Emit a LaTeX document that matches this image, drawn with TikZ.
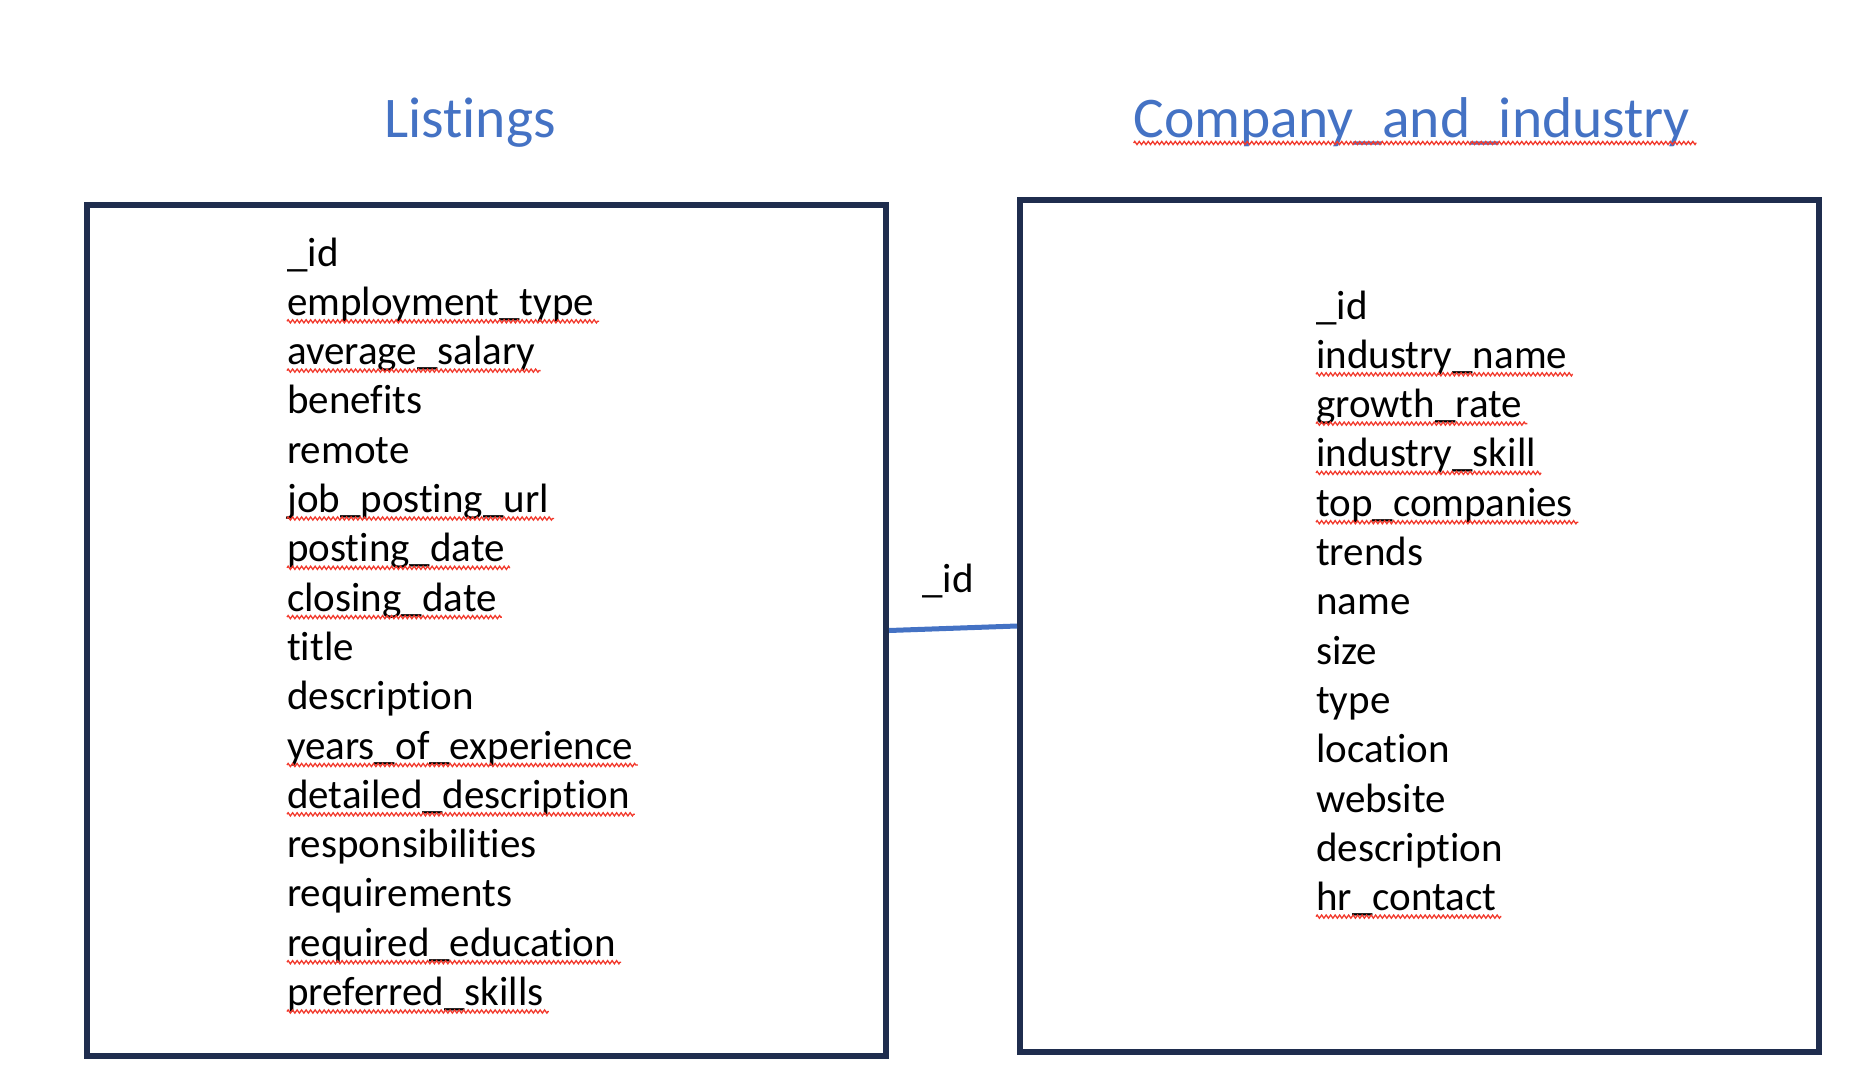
\documentclass[tikz,border=0pt]{standalone}
\usepackage{fontspec}
\setmainfont[Ligatures=NoCommon]{Carlito}
\usetikzlibrary{decorations.pathmorphing}
\definecolor{titleblue}{HTML}{4472C4}
\definecolor{boxnavy}{HTML}{1F2D4E}
\definecolor{spellred}{HTML}{F2392C}
\tikzset{
  tablebox/.style={draw=boxnavy, line width=6pt, rectangle, inner sep=0pt},
  titletext/.style={inner sep=0pt, anchor=base, text=titleblue, font=\fontsize{57.5}{60}\selectfont},
  fieldtext/.style={inner sep=0pt, anchor=base west, font=\fontsize{41}{48}\selectfont},
  wavy/.style={draw=spellred, line width=1.3pt, decorate, decoration={zigzag, amplitude=1.6pt, segment length=4.5pt}},
  linkline/.style={draw=titleblue, line width=5pt}
}
\begin{document}
\begin{tikzpicture}[x=1pt,y=-1pt]
\useasboundingbox (0,0) rectangle (1874,1084);
% titles
\node[titletext] (tl) at (470,137) {Listings};
\node[titletext] (tr) at (1412,137) {Company\_and\_industry};
\draw[wavy] ([xshift=0pt,yshift=-6pt]tr.base west) -- ([xshift=6pt,yshift=-6pt]tr.base east);
% boxes
\node[tablebox, minimum width=799pt, minimum height=851pt] (lbox) at (486.5,630.5) {};
\node[tablebox, minimum width=799pt, minimum height=852pt] (rbox) at (1419.5,626) {};
% connector
\draw[linkline] (lbox.east) -- (rbox.west);
\node[fieldtext] (lid) at (922,592) {\_id};
% left fields
\foreach \t/\u [count=\i] in {\_id/0, employment\_type/1, average\_salary/1, benefits/0, remote/0, job\_posting\_url/1, posting\_date/1, closing\_date/1, title/0, description/0, years\_of\_experience/1, detailed\_description/1, responsibilities/0, requirements/0, required\_education/1, preferred\_skills/1}{
  \node[fieldtext] (L\i) at (287,{266+(\i-1)*49.3}) {\t};
  \ifnum\u=1
    \draw[wavy] ([yshift=-6pt]L\i.base west) -- ([xshift=5pt,yshift=-6pt]L\i.base east);
  \fi
}
% right fields
\foreach \t/\u [count=\i] in {\_id/0, industry\_name/1, growth\_rate/1, industry\_skill/1, top\_companies/1, trends/0, name/0, size/0, type/0, location/0, website/0, description/0, hr\_contact/1}{
  \node[fieldtext] (R\i) at (1316,{319+(\i-1)*49.3}) {\t};
  \ifnum\u=1
    \draw[wavy] ([yshift=-6pt]R\i.base west) -- ([xshift=5pt,yshift=-6pt]R\i.base east);
  \fi
}
\end{tikzpicture}
\end{document}
